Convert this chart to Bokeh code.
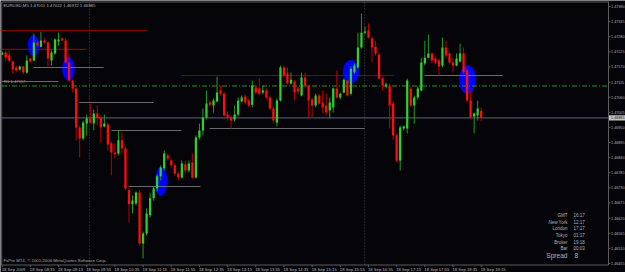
from bokeh.plotting import figure
from bokeh.models import Range1d, ColumnDataSource
from bokeh.embed import file_html
from bokeh.resources import INLINE
from bokeh.core.properties import value

# ---------------- data ----------------
symbol_header = "EURUSD,M5  1.47011  1.47022  1.46972  1.46985"
copyright_text = "FxPro MT4, \u00a9 2001-2006 MetaQuotes Software Corp."

opens = [
    1.47215, 1.47223, 1.47212, 1.47190, 1.47168, 1.47161, 1.47172, 1.47150, 1.47201, 1.47194,
    1.47259, 1.47244, 1.47266, 1.47259, 1.47194, 1.47219, 1.47263, 1.47274, 1.47266, 1.47186,
    1.47121, 1.47092, 1.46950, 1.46910, 1.46964, 1.46983, 1.46964, 1.47001, 1.46986, 1.46953,
    1.46961, 1.46892, 1.46859, 1.46855, 1.46903, 1.46873, 1.46721, 1.46670, 1.46673, 1.46713,
    1.46528, 1.46564, 1.46630, 1.46692, 1.46728, 1.46772, 1.46801, 1.46848, 1.46830, 1.46812,
    1.46782, 1.46768, 1.46815, 1.46793, 1.46822, 1.46768, 1.46913, 1.46939, 1.46986, 1.47041,
    1.47030, 1.47044, 1.47084, 1.47073, 1.46997, 1.46986, 1.46979, 1.46997, 1.47044, 1.47063,
    1.47048, 1.47033, 1.47095, 1.47092, 1.47077, 1.47084, 1.47059, 1.47019, 1.46968, 1.47048,
    1.47168, 1.47146, 1.47110, 1.47117, 1.47092, 1.47066, 1.47132, 1.47103, 1.47052, 1.47030,
    1.47066, 1.47041, 1.47030, 1.47012, 1.47023, 1.47092, 1.47059, 1.47077, 1.47121, 1.47073,
    1.47150, 1.47168, 1.47241, 1.47295, 1.47303, 1.47274, 1.47244, 1.47215, 1.47128, 1.47099,
    1.47103, 1.47037, 1.46921, 1.46830, 1.46946, 1.46946, 1.47092, 1.47030, 1.47059, 1.47084,
    1.47183, 1.47204, 1.47219, 1.47201, 1.47194, 1.47175, 1.47241, 1.47219, 1.47186, 1.47175,
    1.47190, 1.47219, 1.47157, 1.47048, 1.46990, 1.46993, 1.47011]

highs = [
    1.47226, 1.47230, 1.47230, 1.47194, 1.47175, 1.47175, 1.47175, 1.47212, 1.47204, 1.47292,
    1.47266, 1.47299, 1.47274, 1.47263, 1.47230, 1.47274, 1.47295, 1.47277, 1.47274, 1.47219,
    1.47124, 1.47099, 1.46957, 1.46975, 1.46997, 1.47037, 1.47015, 1.47030, 1.46993, 1.46997,
    1.46968, 1.46899, 1.46892, 1.46939, 1.46932, 1.46881, 1.46728, 1.46702, 1.46717, 1.46721,
    1.46571, 1.46655, 1.46710, 1.46735, 1.46779, 1.46812, 1.46866, 1.46855, 1.46837, 1.46819,
    1.46790, 1.46830, 1.46830, 1.46830, 1.46855, 1.46921, 1.46964, 1.47019, 1.47084, 1.47048,
    1.47055, 1.47135, 1.47103, 1.47081, 1.47008, 1.46993, 1.47030, 1.47059, 1.47066, 1.47070,
    1.47055, 1.47121, 1.47103, 1.47128, 1.47103, 1.47092, 1.47066, 1.47026, 1.47055, 1.47175,
    1.47175, 1.47168, 1.47150, 1.47121, 1.47099, 1.47150, 1.47150, 1.47106, 1.47059, 1.47073,
    1.47073, 1.47084, 1.47073, 1.47059, 1.47095, 1.47157, 1.47077, 1.47128, 1.47124, 1.47172,
    1.47183, 1.47295, 1.47365, 1.47317, 1.47328, 1.47281, 1.47266, 1.47223, 1.47135, 1.47113,
    1.47110, 1.47044, 1.46928, 1.46957, 1.46957, 1.47128, 1.47099, 1.47066, 1.47099, 1.47204,
    1.47266, 1.47288, 1.47223, 1.47208, 1.47201, 1.47277, 1.47266, 1.47223, 1.47201, 1.47219,
    1.47255, 1.47241, 1.47164, 1.47084, 1.47004, 1.47048, 1.47022]

lows = [
    1.47212, 1.47194, 1.47186, 1.47146, 1.47150, 1.47157, 1.47143, 1.47146, 1.47186, 1.47190,
    1.47244, 1.47241, 1.47255, 1.47172, 1.47175, 1.47215, 1.47248, 1.47263, 1.47183, 1.47117,
    1.47077, 1.46903, 1.46841, 1.46903, 1.46921, 1.46961, 1.46939, 1.46957, 1.46895, 1.46950,
    1.46866, 1.46775, 1.46837, 1.46848, 1.46855, 1.46721, 1.46604, 1.46637, 1.46666, 1.46521,
    1.46473, 1.46557, 1.46622, 1.46684, 1.46717, 1.46757, 1.46793, 1.46830, 1.46804, 1.46775,
    1.46757, 1.46764, 1.46786, 1.46786, 1.46764, 1.46764, 1.46906, 1.46921, 1.46979, 1.47026,
    1.47004, 1.47041, 1.47066, 1.46990, 1.46975, 1.46946, 1.46972, 1.46990, 1.47041, 1.47033,
    1.47023, 1.47023, 1.47070, 1.47066, 1.47070, 1.47052, 1.47012, 1.46964, 1.46953, 1.47044,
    1.47132, 1.47106, 1.47106, 1.47048, 1.47070, 1.47063, 1.47095, 1.46986, 1.46986, 1.47023,
    1.47033, 1.47001, 1.46993, 1.46983, 1.47004, 1.47055, 1.47052, 1.47073, 1.47063, 1.47066,
    1.47146, 1.47164, 1.47237, 1.47288, 1.47274, 1.47186, 1.47212, 1.47124, 1.47084, 1.47092,
    1.46946, 1.46903, 1.46822, 1.46793, 1.46939, 1.46928, 1.47023, 1.46964, 1.47052, 1.47081,
    1.47175, 1.47201, 1.47183, 1.47179, 1.47139, 1.47168, 1.47204, 1.47179, 1.47150, 1.47172,
    1.47186, 1.47146, 1.47041, 1.46983, 1.46928, 1.46975, 1.46972]

closes = [
    1.47223, 1.47204, 1.47194, 1.47161, 1.47157, 1.47172, 1.47150, 1.47194, 1.47190, 1.47259,
    1.47248, 1.47266, 1.47259, 1.47201, 1.47223, 1.47270, 1.47270, 1.47266, 1.47186, 1.47121,
    1.47092, 1.46950, 1.46910, 1.46968, 1.46983, 1.46968, 1.47001, 1.46983, 1.46950, 1.46964,
    1.46888, 1.46859, 1.46852, 1.46903, 1.46873, 1.46728, 1.46670, 1.46684, 1.46713, 1.46528,
    1.46564, 1.46637, 1.46692, 1.46728, 1.46772, 1.46804, 1.46855, 1.46837, 1.46812, 1.46782,
    1.46768, 1.46819, 1.46793, 1.46819, 1.46768, 1.46913, 1.46939, 1.46986, 1.47037, 1.47033,
    1.47048, 1.47077, 1.47073, 1.46993, 1.46986, 1.46975, 1.46997, 1.47048, 1.47059, 1.47041,
    1.47030, 1.47103, 1.47077, 1.47073, 1.47084, 1.47059, 1.47019, 1.46975, 1.47048, 1.47168,
    1.47139, 1.47110, 1.47124, 1.47077, 1.47081, 1.47132, 1.47103, 1.47048, 1.47030, 1.47066,
    1.47037, 1.47023, 1.47004, 1.47041, 1.47092, 1.47059, 1.47073, 1.47124, 1.47066, 1.47164,
    1.47175, 1.47241, 1.47295, 1.47299, 1.47277, 1.47241, 1.47219, 1.47128, 1.47103, 1.47106,
    1.47030, 1.46921, 1.46830, 1.46950, 1.46953, 1.47121, 1.47030, 1.47059, 1.47092, 1.47186,
    1.47204, 1.47219, 1.47194, 1.47186, 1.47172, 1.47241, 1.47212, 1.47186, 1.47175, 1.47201,
    1.47219, 1.47150, 1.47048, 1.46986, 1.47001, 1.47019, 1.46985]

assert len(opens) == len(highs) == len(lows) == len(closes) == 137

price_ticks = [1.47390, 1.47335, 1.47280, 1.47225, 1.47170, 1.47115, 1.47060, 1.47005, 1.46950,
               1.46895, 1.46840, 1.46785, 1.46730, 1.46675, 1.46620, 1.46565, 1.46510, 1.46455]

time_tick_bars = [0, 8, 16, 24, 32, 40, 48, 56, 64, 72, 80, 88, 96, 104, 112, 120, 128, 136]
time_labels = ["18 Sep 2009", "18 Sep 08:35", "18 Sep 09:15", "18 Sep 09:55", "18 Sep 10:35",
               "18 Sep 11:15", "18 Sep 11:55", "18 Sep 12:35", "18 Sep 13:15", "18 Sep 13:55",
               "18 Sep 14:35", "18 Sep 15:15", "18 Sep 15:55", "18 Sep 16:35", "18 Sep 17:15",
               "18 Sep 17:55", "18 Sep 18:35", "18 Sep 19:15"]

# support / resistance segments (price level, first bar, last bar, kind)
level_prices = [1.47303, 1.47234, 1.47168, 1.47117, 1.47041, 1.46939, 1.46735, 1.47139, 1.46946, 1.47139]
level_start = [-0.5, -0.5, 8.9, -0.5, 21.9, 31.0, 35.9, 50.9, 58.9, 119.9]
level_end = [41.0, 23.9, 28.8, 16.0, 43.0, 50.9, 56.3, 111.1, 102.9, 142.1]
level_kind = ["res", "res", "sr", "sr", "sr", "sr", "sr", "res", "sr", "sr"]
level_label = "R1 1.47117"
pivot_level = 1.47101
current_price = 1.46985

# highlighted zones (bar centre, price centre, width in bars, height in price)
ell_x = [8.9, 18.8, 45.1, 99.0, 132.1]
ell_y = [1.47248, 1.47163, 1.46753, 1.47152, 1.47124]
ell_w = [3.0, 3.2, 3.3, 4.3, 4.5]
ell_h = [0.00073, 0.00084, 0.00102, 0.00084, 0.00102]

separators = [24.8, 102.9]

info_labels = ["GMT", "New York", "London", "Tokyo", "Broker", "Bar"]
info_values = ["16:17", "12:17", "17:17", "01:17", "19:18", "00:03"]
spread_label = "Spread"
spread_value = "8"

# ---------------- layout ----------------
W, H = 625, 272
X0, X1 = -0.48, 176.97
Y0, Y1 = 1.46422, 1.47412


def sx(px):
    return X0 + px * (X1 - X0) / W


def sy(py):
    return Y1 - py * (Y1 - Y0) / H


BG = "#050408"
FRAME = "#5c5c5c"
TXT = "#b4b4b4"
FONT = value("Liberation Sans")
BULL = "#2fcf2f"
BEAR = "#ff0d0d"
BULL_W = "#239a23"
BEAR_W = "#b80000"

p = figure(width=W, height=H, x_range=Range1d(X0, X1), y_range=Range1d(Y0, Y1),
           output_backend="svg", toolbar_location=None, min_border=0,
           x_axis_location=None, y_axis_location=None,
           background_fill_color=BG, border_fill_color=BG, outline_line_color=None)
p.grid.visible = False

# separators
p.segment(x0=separators, y0=[sy(2)] * len(separators), x1=separators, y1=[sy(264)] * len(separators),
          line_color="#4a4a4a", line_width=1, line_dash="1 2")

# blue zones
p.ellipse(x=ell_x, y=ell_y, width=ell_w, height=ell_h, fill_color="#0000ff", line_color="#0000ff")

# level segments
lvl_colors = ["#8a0000" if k == "res" else "#6a6a6a" for k in level_kind]
p.segment(x0=level_start, y0=level_prices, x1=level_end, y1=level_prices,
          line_color=lvl_colors, line_width=1.1)

# pivot dash-dot line
p.segment(x0=[sx(1.5)], y0=[pivot_level], x1=[sx(608)], y1=[pivot_level],
          line_color="#2b8f2b", line_width=1.1, line_dash="5 2 1 2")

# current price line
p.segment(x0=[sx(1.5)], y0=[current_price], x1=[sx(608)], y1=[current_price],
          line_color="#4a5266", line_width=1.2)

# candles
idx = list(range(len(opens)))
up = [c >= o for o, c in zip(opens, closes)]
src = ColumnDataSource(dict(
    x=idx, o=opens, h=highs, l=lows, c=closes,
    top=[max(o, c) for o, c in zip(opens, closes)],
    bot=[min(o, c) for o, c in zip(opens, closes)],
    body=[BULL if u else BEAR for u in up],
    wick=[BULL_W if u else BEAR_W for u in up],
))
p.segment(x0="x", y0="h", x1="x", y1="l", line_color="wick", line_width=1, source=src)
p.vbar(x="x", width=0.64, top="top", bottom="bot", fill_color="body", line_color=None, source=src)

# frame
fx0 = [sx(1.2), sx(1.2), sx(1.2), sx(608)]
fx1 = [sx(608), sx(1.2), sx(608), sx(608)]
fy0 = [sy(1.5), sy(1.5), sy(264.5), sy(1.5)]
fy1 = [sy(1.5), sy(264.5), sy(264.5), sy(264.5)]
p.segment(x0=fx0, y0=fy0, x1=fx1, y1=fy1, line_color=FRAME, line_width=1)

# price axis
p.segment(x0=[sx(608)] * len(price_ticks), y0=price_ticks, x1=[sx(610)] * len(price_ticks),
          y1=price_ticks, line_color=FRAME, line_width=1)
p.text(x=[sx(610.6)] * len(price_ticks), y=price_ticks, text=[f"{v:.5f}" for v in price_ticks],
       text_font=FONT, text_font_size="3.7px", text_color=TXT,
       text_align="left", text_baseline="middle")

# current price box
half = 2.6 * (Y1 - Y0) / H
p.quad(left=[sx(608.5)], right=[sx(625)], top=[current_price + half], bottom=[current_price - half],
       fill_color="#c4c4c4", line_color=None)
p.text(x=[sx(610.6)], y=[current_price], text=[f"{current_price:.5f}"], text_font=FONT,
       text_font_size="3.7px", text_color="#101010", text_align="left", text_baseline="middle")

# time axis
p.segment(x0=time_tick_bars, y0=[sy(264.5)] * len(time_tick_bars), x1=time_tick_bars,
          y1=[sy(266.5)] * len(time_tick_bars), line_color=FRAME, line_width=1)
p.text(x=time_tick_bars, y=[sy(269)] * len(time_tick_bars), text=time_labels, x_offset=-0.5,
       text_font=FONT, text_font_size="4.2px", text_color=TXT,
       text_align="left", text_baseline="middle")

# header & copyright
p.text(x=[sx(3)], y=[sy(4.7)], text=[symbol_header], text_font=FONT, text_font_size="4.3px",
       text_color=TXT, text_align="left", text_baseline="middle")
p.text(x=[sx(3)], y=[sy(260)], text=[copyright_text], text_font=FONT, text_font_size="4.3px",
       text_color="#a8a8a8", text_align="left", text_baseline="middle")

# level label
p.text(x=[sx(3.5)], y=[level_prices[3]], text=[level_label], text_font=FONT, text_font_size="4.2px",
       text_color="#9a9a9a", text_align="left", text_baseline="middle")

# info panel
rows_y = [sy(215 + 6.65 * k) for k in range(len(info_labels))]
p.text(x=[sx(567)] * len(info_labels), y=rows_y, text=info_labels, text_font=FONT,
       text_font_size="4.5px", text_color=TXT, text_align="right", text_baseline="middle")
p.text(x=[sx(573)] * len(info_values), y=rows_y, text=info_values, text_font=FONT,
       text_font_size="4.5px", text_color=TXT, text_align="left", text_baseline="middle")
p.text(x=[sx(567)], y=[sy(254.5)], text=[spread_label], text_font=FONT, text_font_size="6.6px",
       text_color=TXT, text_align="right", text_baseline="middle")
p.text(x=[sx(574)], y=[sy(254.5)], text=[spread_value], text_font=FONT, text_font_size="6.6px",
       text_color=TXT, text_align="left", text_baseline="middle")

open("out.html", "w").write(file_html(p, INLINE))
